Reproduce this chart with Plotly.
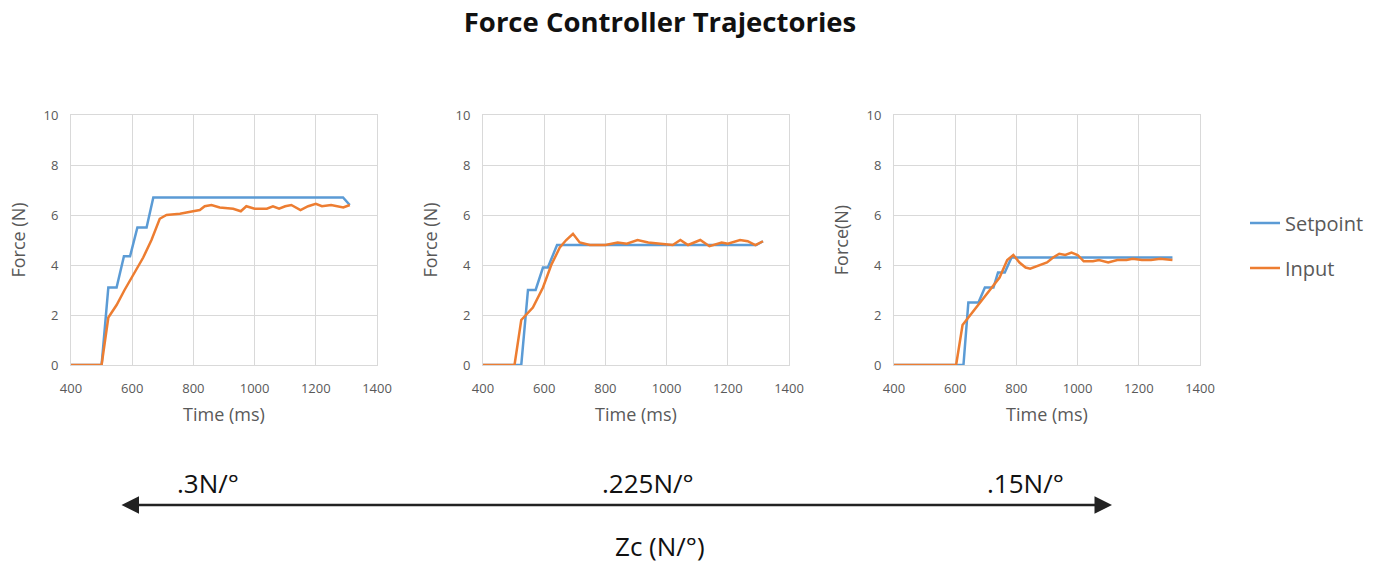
import plotly.graph_objects as go

# ---------------- data ----------------
title_text = "Force Controller Trajectories"
zc_labels = [".3N/°", ".225N/°", ".15N/°"]
zc_axis_label = "Zc (N/°)"
series_names = ["Setpoint", "Input"]
y_titles = ["Force (N)", "Force (N)", "Force(N)"]
x_title = "Time (ms)"
x_ticks = [400, 600, 800, 1000, 1200, 1400]
y_ticks = [0, 2, 4, 6, 8, 10]

# Panel 1 (Zc = .3 N/deg)
t_sp1 = [400, 500, 522, 549, 573, 593, 617, 647, 669, 1289, 1311]
sp1 = [0, 0, 3.1, 3.1, 4.35, 4.35, 5.5, 5.5, 6.7, 6.7, 6.4]
t_in1 = [400, 500, 522, 549, 575, 603, 636, 663, 690, 712, 756, 799, 821, 837,
         859, 886, 930, 955, 973, 1000, 1040, 1060, 1080, 1100, 1120, 1150,
         1175, 1200, 1220, 1250, 1270, 1290, 1311]
in1 = [0, 0, 1.9, 2.4, 3.0, 3.6, 4.3, 5.0, 5.85, 6.0, 6.05, 6.15, 6.2, 6.35,
       6.4, 6.3, 6.25, 6.15, 6.35, 6.25, 6.25, 6.35, 6.25, 6.35, 6.4, 6.2,
       6.35, 6.45, 6.35, 6.4, 6.35, 6.3, 6.4]

# Panel 2 (Zc = .225 N/deg)
t_sp2 = [400, 525, 547, 572, 596, 612, 642, 1293, 1315]
sp2 = [0, 0, 3.0, 3.0, 3.9, 3.9, 4.8, 4.8, 4.95]
t_in2 = [400, 503, 525, 563, 596, 623, 651, 672, 694, 716, 749, 800, 840, 870,
         905, 940, 980, 1020, 1045, 1070, 1110, 1140, 1180, 1200, 1240, 1265,
         1290, 1315]
in2 = [0, 0, 1.8, 2.3, 3.1, 4.0, 4.7, 5.0, 5.25, 4.9, 4.8, 4.8, 4.9, 4.85,
       5.0, 4.9, 4.85, 4.8, 5.0, 4.8, 5.0, 4.75, 4.9, 4.85, 5.0, 4.95,
       4.8, 4.95]

# Panel 3 (Zc = .15 N/deg)
t_sp3 = [400, 627, 643, 676, 697, 725, 740, 762, 784, 1310]
sp3 = [0, 0, 2.5, 2.5, 3.1, 3.1, 3.7, 3.7, 4.3, 4.3]
t_in3 = [400, 603, 624, 650, 680, 715, 745, 770, 790, 810, 830, 845, 870, 900,
         920, 940, 960, 980, 1000, 1020, 1050, 1070, 1100, 1130, 1160, 1180,
         1210, 1240, 1270, 1310]
in3 = [0, 0, 1.6, 2.0, 2.5, 3.0, 3.5, 4.2, 4.4, 4.1, 3.9, 3.85, 3.95, 4.1,
       4.3, 4.45, 4.4, 4.5, 4.4, 4.15, 4.15, 4.2, 4.1, 4.2, 4.2, 4.25,
       4.2, 4.2, 4.25, 4.2]

panels = [(t_sp1, sp1, t_in1, in1), (t_sp2, sp2, t_in2, in2), (t_sp3, sp3, t_in3, in3)]

# ---------------- styling ----------------
W, H = 1384, 563
BLUE = "#5B9BD5"
ORANGE = "#ED7D31"
GRID = "#D9D9D9"
TXT = "#595959"
FONT = "Open Sans"

x_px = [(71, 377), (483, 789), (894, 1200)]
y_top, y_bot = 115, 365

fig = go.Figure()
for i, (ts, s, ti, v) in enumerate(panels):
    ax = "" if i == 0 else str(i + 1)
    fig.add_trace(go.Scatter(x=ts, y=s, mode="lines", name=series_names[0],
                             line=dict(color=BLUE, width=2.5),
                             xaxis="x" + ax, yaxis="y" + ax,
                             showlegend=(i == 0), legend="legend"))
    fig.add_trace(go.Scatter(x=ti, y=v, mode="lines", name=series_names[1],
                             line=dict(color=ORANGE, width=2.5),
                             xaxis="x" + ax, yaxis="y" + ax,
                             showlegend=(i == 0), legend="legend2"))

layout = dict(
    width=W, height=H,
    margin=dict(l=0, r=0, t=0, b=0, autoexpand=False),
    paper_bgcolor="white", plot_bgcolor="white",
    font=dict(family=FONT, color=TXT),
    title=dict(text="<b>" + title_text + "</b>", x=660 / W, xanchor="center",
               y=1 - 22 / H, yanchor="middle", automargin=False,
               font=dict(family=FONT, size=27.5, color="#111111")),
    legend=dict(x=1245 / W, xanchor="left", y=1 - 223 / H, yanchor="middle",
                bgcolor="rgba(0,0,0,0)", font=dict(size=20, color=TXT)),
    legend2=dict(x=1245 / W, xanchor="left", y=1 - 268 / H, yanchor="middle",
                 bgcolor="rgba(0,0,0,0)", font=dict(size=20, color=TXT)),
)

for i in range(3):
    ax = "" if i == 0 else str(i + 1)
    x0, x1 = x_px[i]
    layout["xaxis" + ax] = dict(
        domain=[x0 / W, x1 / W], range=[400, 1400], tickvals=x_ticks,
        showgrid=True, gridcolor=GRID, gridwidth=1, zeroline=False,
        showline=True, linecolor=GRID, mirror=True, ticks="",
        tickfont=dict(size=13, color=TXT), ticklabelstandoff=11,
        anchor="y" + ax, fixedrange=True, automargin=False,
        title=dict(text=x_title, font=dict(size=18, color=TXT), standoff=12),
    )
    layout["yaxis" + ax] = dict(
        domain=[1 - y_bot / H, 1 - y_top / H], range=[0, 10], tickvals=y_ticks,
        showgrid=True, gridcolor=GRID, gridwidth=1, zeroline=False,
        showline=True, linecolor=GRID, mirror=True,
        ticks="outside", ticklen=9, tickcolor="rgba(0,0,0,0)",
        tickfont=dict(size=13, color=TXT),
        anchor="x" + ax, fixedrange=True, automargin=False,
        title=dict(text=y_titles[i], font=dict(size=18, color=TXT), standoff=13),
    )

annotations = []
label_x = [208, 648, 1025]
for lx, lab in zip(label_x, zc_labels):
    annotations.append(dict(text=lab, xref="paper", yref="paper", x=lx / W,
                            y=1 - 483 / H, showarrow=False, xanchor="center",
                            yanchor="middle",
                            font=dict(family=FONT, size=26, color="#111111")))
annotations.append(dict(text=zc_axis_label, xref="paper", yref="paper",
                        x=660 / W, y=1 - 546 / H, showarrow=False,
                        xanchor="center", yanchor="middle",
                        font=dict(family=FONT, size=26, color="#111111")))
# double-headed arrow along the Zc axis
annotations.append(dict(text="", xref="paper", yref="paper", x=1112 / W,
                        y=1 - 505 / H, ax=-(1112 - 120), ay=0,
                        showarrow=True, arrowhead=2, arrowside="end+start",
                        arrowsize=1.4, arrowwidth=2.5, arrowcolor="#222222",
                        standoff=0, startstandoff=0))
layout["annotations"] = annotations

fig.update_layout(**layout)
fig.write_html("out.html",
               config={"displayModeBar": False},
               post_script="document.body.style.margin='0px';"
                           "document.body.style.overflow='hidden';")
